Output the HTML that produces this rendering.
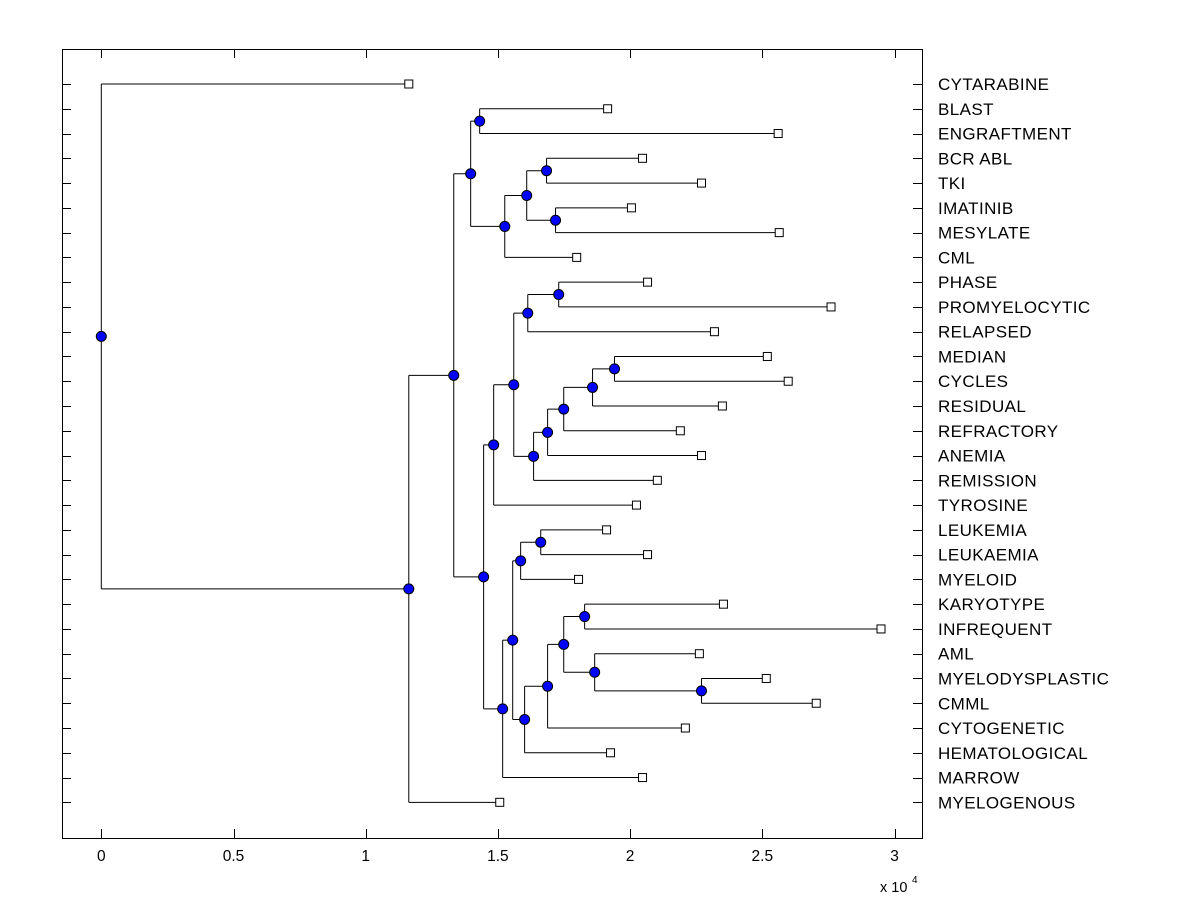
<!DOCTYPE html>
<html><head><meta charset="utf-8"><style>
body{margin:0;background:#fff;}
svg text{font-family:"Liberation Sans",Arial,sans-serif;fill:#000;}
</style></head><body>
<svg id="chart" width="1200" height="900" xmlns="http://www.w3.org/2000/svg">
<rect x="0" y="0" width="1200" height="900" fill="#fff"/>
<g id="plot"></g>
</svg>
<script>
const leafLabels=["CYTARABINE","BLAST","ENGRAFTMENT","BCR ABL","TKI","IMATINIB","MESYLATE","CML","PHASE","PROMYELOCYTIC","RELAPSED","MEDIAN","CYCLES","RESIDUAL","REFRACTORY","ANEMIA","REMISSION","TYROSINE","LEUKEMIA","LEUKAEMIA","MYELOID","KARYOTYPE","INFREQUENT","AML","MYELODYSPLASTIC","CMML","CYTOGENETIC","HEMATOLOGICAL","MARROW","MYELOGENOUS"];
const leafValues=[11630,19150,25600,20470,22700,20050,25640,17980,20660,27600,23190,25190,25980,23490,21900,22700,21030,20240,19110,20660,18050,23530,29490,22620,25150,27040,22090,19260,20470,15070];
// merges: [childA, childB, height]; numbers = leaf index, strings = node id
const mergeIds=["I","J","H","G","F","D","P","N","T","S","R","Q","O","M","K","X","V","AA","AC","AB","Z","Y","W","U","L","E","C","B","ROOT"];
const mergeChildA=[3,5,"I","H",1,"F",8,"P",11,"T","S","R","Q","N","M",18,"X",21,24,23,"AA","Z","Y","V","U","K","D","C",0];
const mergeChildB=[4,6,"J",7,2,"G",9,10,12,13,14,15,16,"O",17,19,20,22,25,"AC","AB",26,27,"W",28,"L","E",29,"B"];
const mergeHeights=[16840,17180,16090,15260,14310,13970,17300,16130,19410,18580,17490,16880,16350,15600,14840,16620,15860,18280,22700,18660,17490,16880,16010,15560,15180,14460,13330,11630,0];
const xTicks=[0,5000,10000,15000,20000,25000,30000];
const xTickLabels=["0","0.5","1","1.5","2","2.5","3"];

const L=62,R=922,T=49,B=838;
const xs=v=>101.3+v*0.02644;
const ys=i=>84+i*24.77;
const g=document.getElementById('plot');
const NS="http://www.w3.org/2000/svg";
function mk(tag,attrs){const e=document.createElementNS(NS,tag);for(const k in attrs)e.setAttribute(k,attrs[k]);g.appendChild(e);return e;}

let box=mk('rect',{x:L+.5,y:T+.5,width:R-L,height:B-T,fill:'none',stroke:'#000','stroke-width':1});



xTicks.forEach((v,i)=>{
  const x=Math.round(xs(v))+.5;
  let t=mk('line',{x1:x,x2:x,y1:B,y2:B-9,stroke:'#000'});
  
  
  let t2=mk('line',{x1:x,x2:x,y1:T,y2:T+9,stroke:'#000'});
  
  
  let lb=mk('text',{x:xs(v),y:861,'font-size':15.5,'text-anchor':'middle'});
  lb.textContent=xTickLabels[i];
  
  
});
let ex=mk('text',{x:880,y:892,'font-size':14.5});
ex.textContent='x 10';


let ex2=mk('text',{x:912,y:883,'font-size':10});
ex2.textContent='4';



leafLabels.forEach((lab,i)=>{
  const y=Math.round(ys(i))+.5;
  let a=mk('line',{x1:L,x2:L+9,y1:y,y2:y,stroke:'#000'});
  
  
  let b=mk('line',{x1:R,x2:R-9,y1:y,y2:y,stroke:'#000'});
  
  
  let tx=mk('text',{x:938,y:ys(i)+6,'font-size':17,'letter-spacing':'0.4'});
  tx.textContent=lab;
  
  
});

const pos={};
leafLabels.forEach((l,i)=>{pos[i]={x:xs(leafValues[i]),y:ys(i),leaf:true};});
mergeIds.forEach((id,k)=>{
  const a=pos[mergeChildA[k]],b=pos[mergeChildB[k]];
  pos[id]={x:xs(mergeHeights[k]),y:(a.y+b.y)/2,a,b};
});
const circles=[];
mergeIds.forEach(id=>{
  const n=pos[id];
  let v=mk('line',{x1:n.x,x2:n.x,y1:n.a.y,y2:n.b.y,stroke:'#000','stroke-width':1});
  
  
  [n.a,n.b].forEach(c=>{
    let h=mk('line',{x1:n.x,x2:c.x,y1:c.y,y2:c.y,stroke:'#000','stroke-width':1});
    
    
  });
  circles.push(n);
});
leafLabels.forEach((l,i)=>{
  const p=pos[i];
  let s=mk('rect',{x:p.x-4,y:p.y-4,width:8,height:8,fill:'#fff',stroke:'#000','stroke-width':1});
  
  
});
circles.forEach(n=>{
  let c=mk('circle',{cx:n.x,cy:n.y,r:5,fill:'#0000ff',stroke:'#000','stroke-width':1});
  
  
});
</script>
</body></html>
